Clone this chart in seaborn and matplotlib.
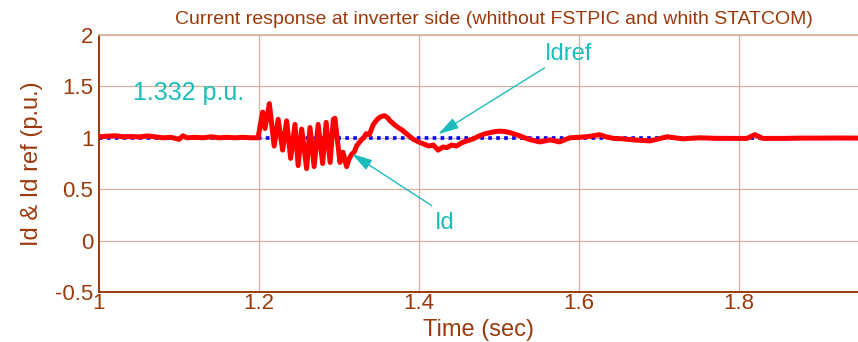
import matplotlib
matplotlib.use('Agg')
import matplotlib.pyplot as plt
import pandas as pd
import seaborn as sns

# Id trace (time in s, value in p.u.)
time_id = [1.000, 1.010, 1.020, 1.030, 1.040, 1.050, 1.060, 1.070, 1.080, 1.090,
           1.100, 1.105, 1.110, 1.120, 1.130, 1.140, 1.150, 1.160, 1.170, 1.180,
           1.190, 1.199, 1.2015, 1.2046, 1.2075, 1.213, 1.219, 1.224, 1.2296, 1.2346,
           1.2396, 1.245, 1.249, 1.2534, 1.2596, 1.2638, 1.269, 1.274, 1.2796, 1.284,
           1.289, 1.293, 1.295, 1.3013, 1.305, 1.3096, 1.313, 1.316, 1.319, 1.322,
           1.325, 1.328, 1.331, 1.334, 1.338, 1.343, 1.348, 1.352, 1.357, 1.360,
           1.364, 1.369, 1.374, 1.380, 1.385, 1.393, 1.401, 1.406, 1.412, 1.418,
           1.424, 1.430, 1.435, 1.441, 1.447, 1.453, 1.460, 1.468, 1.476, 1.483,
           1.489, 1.495, 1.501, 1.508, 1.514, 1.520, 1.526, 1.532, 1.540, 1.551,
           1.558, 1.564, 1.570, 1.576, 1.582, 1.589, 1.600, 1.609, 1.618, 1.626,
           1.634, 1.643, 1.655, 1.668, 1.678, 1.689, 1.700, 1.710, 1.720, 1.730,
           1.740, 1.751, 1.770, 1.793, 1.810, 1.820, 1.830, 1.855, 1.880, 1.900,
           1.925, 1.949]
id_vals = [1.010, 1.015, 1.020, 1.010, 1.012, 1.008, 1.018, 1.010, 1.000, 1.005,
           0.985, 1.020, 1.000, 1.005, 1.000, 1.010, 1.000, 1.005, 1.000, 1.005,
           1.000, 1.000, 1.120, 1.250, 1.090, 1.332, 0.920, 1.180, 0.880, 1.165,
           0.800, 1.130, 0.730, 1.085, 0.700, 1.100, 0.720, 1.130, 0.750, 1.150,
           0.760, 1.180, 1.190, 0.760, 0.860, 0.720, 0.800, 0.840, 0.860, 0.920,
           0.950, 0.980, 1.000, 1.040, 1.030, 1.130, 1.180, 1.205, 1.215, 1.200,
           1.165, 1.130, 1.100, 1.070, 1.036, 0.985, 0.955, 0.940, 0.920, 0.930,
           0.880, 0.910, 0.905, 0.930, 0.920, 0.950, 0.970, 0.990, 1.020, 1.040,
           1.050, 1.060, 1.065, 1.060, 1.050, 1.035, 1.020, 1.000, 0.980, 0.960,
           0.970, 0.980, 0.970, 0.960, 0.980, 1.000, 1.005, 1.010, 1.020, 1.030,
           1.010, 0.994, 0.990, 0.980, 0.975, 0.970, 0.990, 1.010, 1.000, 0.990,
           0.995, 1.000, 0.995, 0.994, 0.994, 1.030, 0.994, 0.994, 0.997, 0.997,
           0.998, 0.997]

# Idref is constant
time_ref = [1.0, 1.949]
idref_vals = [1.0, 1.0]

x_ticks = [1, 1.2, 1.4, 1.6, 1.8]
x_tick_labels = ['1', '1.2', '1.4', '1.6', '1.8']
y_ticks = [-0.5, 0, 0.5, 1, 1.5, 2]
y_tick_labels = ['-0.5', '0', '0.5', '1', '1.5', '2']

BROWN = '#9A3A0C'
GRID = '#D8B0A0'
CYAN = '#1CBCBC'


def main():
    sns.set_theme(style='white')
    plt.rcParams['font.family'] = ['Liberation Sans', 'DejaVu Sans']

    fig = plt.figure(figsize=(8.58, 3.42), dpi=100)
    ax = fig.add_axes([99 / 858, 1 - 292 / 342, 759 / 858, 257 / 342])

    df_ref = pd.DataFrame({'t': time_ref, 'v': idref_vals})
    df_id = pd.DataFrame({'t': time_id, 'v': id_vals})
    sns.lineplot(data=df_ref, x='t', y='v', ax=ax, color='#0000FF', lw=2.6,
                 linestyle=(0, (1, 1.2)), zorder=2)
    sns.lineplot(data=df_id, x='t', y='v', ax=ax, color='#FF0000', lw=3.6,
                 zorder=3, sort=False)

    ax.set_xlim(1, 1.949)
    ax.set_ylim(-0.5, 2)
    ax.set_xticks(x_ticks)
    ax.set_xticklabels(x_tick_labels)
    ax.set_yticks(y_ticks)
    ax.set_yticklabels(y_tick_labels)
    ax.tick_params(direction='in', length=4, width=1, colors=BROWN,
                   labelsize=16)
    ax.tick_params(axis='x', pad=1)
    ax.tick_params(axis='y', pad=4)
    ax.grid(True, color=GRID, lw=0.9)

    for side in ['left', 'bottom']:
        ax.spines[side].set_color(BROWN)
        ax.spines[side].set_linewidth(1.4)
    ax.spines['top'].set_color(GRID)
    ax.spines['right'].set_visible(False)

    ax.set_xlabel('Time (sec)', color=BROWN, fontsize=17, labelpad=3)
    ax.set_ylabel('Id & Id ref (p.u.)', color=BROWN, fontsize=17, labelpad=9)
    ax.set_title('Current response at inverter side (whithout FSTPIC and whith STATCOM)',
                 color=BROWN, fontsize=14, pad=8, x=0.52)

    ax.text(1.0425, 1.44, '1.332 p.u.', color=CYAN, fontsize=18, va='center')

    ax.text(1.557, 1.82, 'Idref', color=CYAN, fontsize=17, ha='left', va='center')
    ax.annotate('', xy=(1.424, 1.035), xytext=(1.557, 1.68),
                arrowprops=dict(arrowstyle='-|>,head_length=0.9,head_width=0.25',
                                color=CYAN, lw=1, mutation_scale=14,
                                shrinkA=0, shrinkB=0))
    ax.text(1.42, 0.17, 'Id', color=CYAN, fontsize=17, ha='left', va='center')
    ax.annotate('', xy=(1.316, 0.845), xytext=(1.416, 0.34),
                arrowprops=dict(arrowstyle='-|>,head_length=0.9,head_width=0.25',
                                color=CYAN, lw=1, mutation_scale=14,
                                shrinkA=0, shrinkB=0))

    fig.savefig('out.png', dpi=100)


if __name__ == '__main__':
    main()
